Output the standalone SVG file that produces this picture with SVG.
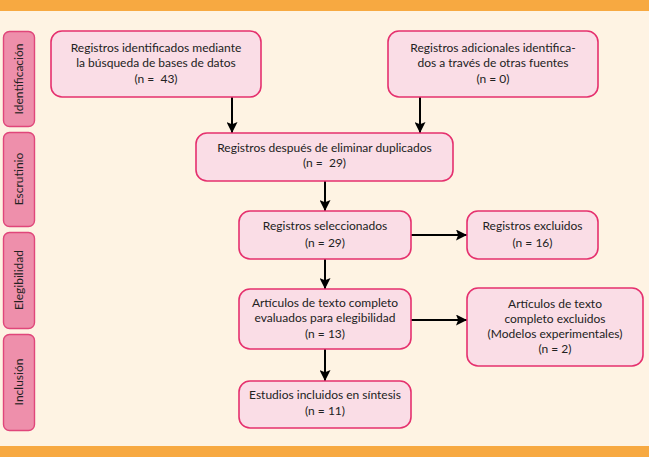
<svg xmlns="http://www.w3.org/2000/svg" width="649" height="457" viewBox="0 0 649 457">
<defs>
<style>
.bg{fill:#FEF3E3}
.bar{fill:#F7A941}
.box{fill:#FADDE6;stroke:#E5306E;stroke-width:1.6}
.side{fill:#EE8FAB;stroke:#E0467A;stroke-width:1.4}
.t{font-family:Lato,"Open Sans",sans-serif;font-size:12px;fill:#222;text-anchor:middle;white-space:pre}
.st{font-family:Lato,"Open Sans",sans-serif;font-size:12px;fill:#222;text-anchor:middle}
.c{stroke:#000;stroke-width:2;fill:none}
</style>
<marker id="ah" viewBox="0 0 10 10" refX="10" refY="5" markerWidth="5.5" markerHeight="5.5" orient="auto" markerUnits="strokeWidth">
<path d="M0,0 L10,5 L0,10 L2,5 z" fill="#000"/>
</marker>
</defs>
<rect class="bg" x="0" y="0" width="649" height="457"/>
<rect class="bar" x="0" y="0" width="649" height="11"/>
<rect class="bar" x="0" y="446" width="649" height="11"/>

<g id="side-identificacion"><rect class="side" x="3.5" y="31.5" width="31" height="95" rx="6"/><text class="st" transform="translate(23,79) rotate(-90)">Identificación</text></g>
<g id="side-escrutinio"><rect class="side" x="3.5" y="132.5" width="31" height="94" rx="6"/><text class="st" transform="translate(23,179) rotate(-90)">Escrutinio</text></g>
<g id="side-elegibilidad"><rect class="side" x="3.5" y="232.5" width="31" height="96" rx="6"/><text class="st" transform="translate(23,280) rotate(-90)">Elegibilidad</text></g>
<g id="side-inclusion"><rect class="side" x="3.5" y="334.5" width="31" height="96" rx="6"/><text class="st" transform="translate(23,382) rotate(-90)">Inclusión</text></g>

<g id="connectors">
<line class="c" x1="232" y1="97" x2="232" y2="133" marker-end="url(#ah)"/>
<line class="c" x1="420" y1="97" x2="420" y2="133" marker-end="url(#ah)"/>
<line class="c" x1="325" y1="181" x2="325" y2="211" marker-end="url(#ah)"/>
<line class="c" x1="325" y1="259" x2="325" y2="289" marker-end="url(#ah)"/>
<line class="c" x1="325" y1="349" x2="325" y2="381" marker-end="url(#ah)"/>
<line class="c" x1="411" y1="235" x2="467" y2="235" marker-end="url(#ah)"/>
<line class="c" x1="411" y1="320" x2="467" y2="320" marker-end="url(#ah)"/>
</g>

<g id="n1"><rect class="box" x="51" y="31" width="210" height="66" rx="11"/>
<text class="t" x="156" y="52">Registros identificados mediante</text>
<text class="t" x="156" y="67">la búsqueda de bases de datos</text>
<text class="t" x="156" y="83">(n =  43)</text></g>

<g id="n2"><rect class="box" x="388" y="31" width="210" height="66" rx="11"/>
<text class="t" x="493" y="52">Registros adicionales identifica-</text>
<text class="t" x="493" y="67">dos a través de otras fuentes</text>
<text class="t" x="493" y="83">(n = 0)</text></g>

<g id="n3"><rect class="box" x="196" y="133" width="257" height="48" rx="11"/>
<text class="t" x="324.5" y="152">Registros después de eliminar duplicados</text>
<text class="t" x="324.5" y="167">(n =  29)</text></g>

<g id="n4"><rect class="box" x="239" y="211" width="172" height="48" rx="11"/>
<text class="t" x="325" y="230">Registros seleccionados</text>
<text class="t" x="325" y="247">(n = 29)</text></g>

<g id="n5"><rect class="box" x="467" y="211" width="131" height="48" rx="11"/>
<text class="t" x="532.5" y="230">Registros excluidos</text>
<text class="t" x="532.5" y="247">(n = 16)</text></g>

<g id="n6"><rect class="box" x="239" y="289" width="172" height="60" rx="11"/>
<text class="t" x="325" y="307">Artículos de texto completo</text>
<text class="t" x="325" y="322">evaluados para elegibilidad</text>
<text class="t" x="325" y="338">(n = 13)</text></g>

<g id="n7"><rect class="box" x="467" y="288" width="176" height="78" rx="11"/>
<text class="t" x="555" y="308">Artículos de texto</text>
<text class="t" x="555" y="323">completo excluidos</text>
<text class="t" x="555" y="338">(Modelos experimentales)</text>
<text class="t" x="555" y="353">(n = 2)</text></g>

<g id="n8"><rect class="box" x="239" y="381" width="172" height="47" rx="11"/>
<text class="t" x="325" y="399">Estudios incluidos en síntesis</text>
<text class="t" x="325" y="415">(n = 11)</text></g>
</svg>
